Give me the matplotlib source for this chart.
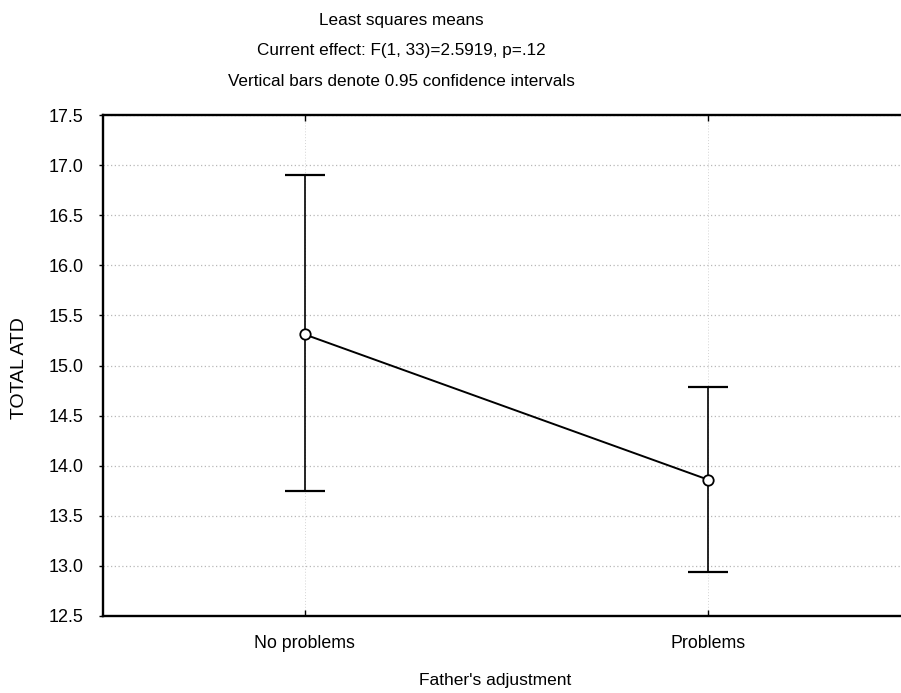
import matplotlib
matplotlib.use("Agg")
import matplotlib.pyplot as plt
import numpy as np

categories = ["No problems", "Problems"]
means = [15.31, 13.86]
ci_upper = [16.90, 14.79]
ci_lower = [13.75, 12.94]
yticks = [12.5, 13.0, 13.5, 14.0, 14.5, 15.0, 15.5, 16.0, 16.5, 17.0, 17.5]

plt.rcParams['font.family'] = ['Liberation Sans', 'DejaVu Sans']

W, H = 901, 693
fig = plt.figure(figsize=(W / 100, H / 100), dpi=100)
fig.patch.set_facecolor('white')

left, right, top, bottom = 103, 910, 115, 616
ax = fig.add_axes([left / W, 1 - bottom / H, (right - left) / W, (bottom - top) / H])

x = np.arange(len(categories))
means_a = np.array(means)
yerr = np.vstack([means_a - np.array(ci_lower), np.array(ci_upper) - means_a])

ax.errorbar(x, means, yerr=yerr, fmt='none', ecolor='black', elinewidth=1.2,
            capsize=14.5, capthick=1.6, zorder=3)
ax.plot(x, means, color='black', linewidth=1.4, marker='o', markersize=7.5,
        markerfacecolor='white', markeredgecolor='black', markeredgewidth=1.3, zorder=4)

ax.set_xlim(-0.5, 1.5)
ax.set_ylim(12.5, 17.5)
ax.set_yticks(yticks)
ax.set_yticklabels([f"{v:.1f}" for v in yticks])
ax.set_xticks(x)
ax.set_xticklabels(categories)

ax.grid(True, axis='y', linestyle=(0, (1, 2)), color='#b8b8b8', linewidth=0.9)
ax.grid(True, axis='x', linestyle=(0, (1, 2)), color='#d4d4d4', linewidth=0.7)
ax.set_axisbelow(True)

for s in ['left', 'bottom', 'top', 'right']:
    ax.spines[s].set_linewidth(1.7)
    ax.spines[s].set_color('black')

ax.tick_params(axis='y', direction='out', length=3, width=1.0, labelsize=13, pad=11)
ax.tick_params(axis='x', direction='in', length=4, width=1.0, labelsize=12.8, pad=14,
               top=True)

fig.text(20 / W, 1 - 368 / H, "TOTAL ATD", rotation=90, ha='center', va='center', fontsize=14)
fig.text(495 / W, 1 - 680 / H, "Father's adjustment", ha='center', va='center', fontsize=12.5)

fig.text(401 / W, 1 - 20 / H, "Least squares means", ha='center', va='center', fontsize=12.3)
fig.text(401 / W, 1 - 51 / H, "Current effect: F(1, 33)=2.5919, p=.12", ha='center', va='center', fontsize=12.3)
fig.text(401 / W, 1 - 81 / H, "Vertical bars denote 0.95 confidence intervals", ha='center', va='center', fontsize=12.3)

fig.savefig("out.png", dpi=100, facecolor='white')
